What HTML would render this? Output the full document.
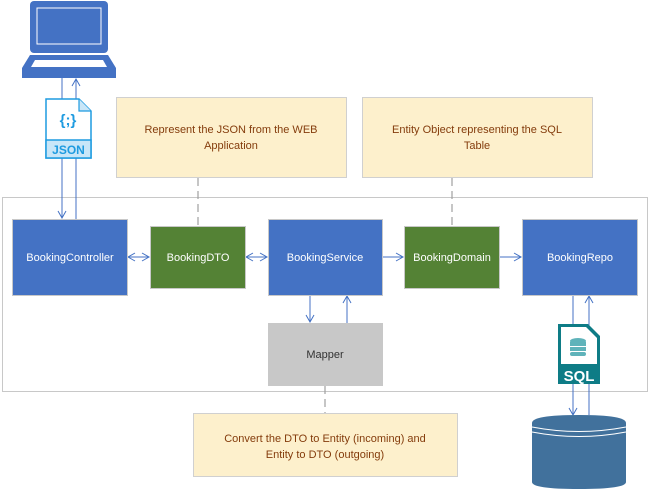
<!DOCTYPE html>
<html><head><style>body{margin:0;background:#fff}svg{display:block}text{font-family:"Liberation Sans",sans-serif}</style></head>
<body>
<svg width="650" height="491" viewBox="0 0 650 491" xmlns="http://www.w3.org/2000/svg">
<defs>
<marker id="a" markerWidth="10" markerHeight="10" refX="8" refY="5" orient="auto" markerUnits="userSpaceOnUse"><path d="M1,1 L8,5 L1,9" fill="none" stroke="#4472c4" stroke-width="1"/></marker>
</defs>
<rect x="2.5" y="197.5" width="645" height="194" fill="#fff" stroke="#c8c8c8"/>
<rect x="116.5" y="97.5" width="230" height="80" fill="#fdf0cc" stroke="#d0d0d0"/>
<text x="231" y="133" font-size="11" fill="#843c0c" text-anchor="middle">Represent the JSON from the WEB</text>
<text x="231" y="149" font-size="11" fill="#843c0c" text-anchor="middle">Application</text>
<rect x="362.5" y="97.5" width="230" height="80" fill="#fdf0cc" stroke="#d0d0d0"/>
<text x="477" y="133" font-size="11" fill="#843c0c" text-anchor="middle">Entity Object representing the SQL</text>
<text x="477" y="149" font-size="11" fill="#843c0c" text-anchor="middle">Table</text>
<rect x="193.5" y="413.5" width="264" height="63" fill="#fdf0cc" stroke="#d0d0d0"/>
<text x="325" y="442" font-size="11" fill="#843c0c" text-anchor="middle">Convert the DTO to Entity (incoming) and</text>
<text x="325" y="458" font-size="11" fill="#843c0c" text-anchor="middle">Entity to DTO (outgoing)</text>
<g stroke="#a0a0a0" stroke-dasharray="8,5" stroke-width="1.2">
<line x1="198" y1="178" x2="198" y2="226"/>
<line x1="452" y1="178" x2="452" y2="226"/>
<line x1="325" y1="386" x2="325" y2="413"/>
</g>
<rect x="30" y="1" width="78" height="52" rx="4" fill="#4472c4"/>
<rect x="37" y="8" width="64" height="36" fill="none" stroke="#fff" stroke-width="1"/>
<path d="M30,55 L108,55 L116,68 L116,78 L22,78 L22,68 Z" fill="#4472c4"/>
<path d="M35,60 L103,60 L107,67 L31,67 Z" fill="#fff"/>
<g stroke="#4472c4" stroke-width="1" fill="none">
<line x1="62" y1="78" x2="62" y2="218" marker-end="url(#a)"/>
<line x1="76" y1="219" x2="76" y2="79" marker-end="url(#a)"/>
<line x1="573" y1="295" x2="573" y2="415" marker-end="url(#a)"/>
<line x1="589" y1="415" x2="589" y2="296" marker-end="url(#a)"/>
<line x1="310" y1="295" x2="310" y2="322" marker-end="url(#a)"/>
<line x1="347" y1="323" x2="347" y2="296" marker-end="url(#a)"/>
<line x1="128" y1="257" x2="149" y2="257" marker-end="url(#a)"/>
<line x1="149" y1="257" x2="128" y2="257" marker-end="url(#a)"/>
<line x1="246" y1="257" x2="267" y2="257" marker-end="url(#a)"/>
<line x1="267" y1="257" x2="246" y2="257" marker-end="url(#a)"/>
<line x1="383" y1="257" x2="403" y2="257" marker-end="url(#a)"/>
<line x1="500" y1="257" x2="521" y2="257" marker-end="url(#a)"/>
</g>
<path d="M46,99 L79,99 L91,111 L91,158 L46,158 Z" fill="#fff" stroke="#1e9be0" stroke-width="1.5"/>
<path d="M79,99 L79,111 L91,111" fill="#c8e6f8" stroke="#1e9be0" stroke-width="1.2"/>
<rect x="46" y="140" width="45" height="18" fill="#c8e6f8" stroke="#1e9be0" stroke-width="1.5"/>
<text x="68" y="125" font-size="15" fill="#1e9be0" text-anchor="middle" font-weight="bold">{;}</text>
<text x="68.5" y="154" font-size="12" fill="#1e9be0" text-anchor="middle" font-weight="bold">JSON</text>
<rect x="12.5" y="219.5" width="115" height="76" fill="#4472c4" stroke="#c8c8c8"/>
<text x="70" y="261" font-size="11" fill="#fff" text-anchor="middle">BookingController</text>
<rect x="150.5" y="226.5" width="95" height="62" fill="#548235" stroke="#c8c8c8"/>
<text x="198" y="261" font-size="11" fill="#fff" text-anchor="middle">BookingDTO</text>
<rect x="268.5" y="219.5" width="114" height="76" fill="#4472c4" stroke="#c8c8c8"/>
<text x="325" y="261" font-size="11" fill="#fff" text-anchor="middle">BookingService</text>
<rect x="404.5" y="226.5" width="95" height="62" fill="#548235" stroke="#c8c8c8"/>
<text x="452" y="261" font-size="11" fill="#fff" text-anchor="middle">BookingDomain</text>
<rect x="522.5" y="219.5" width="115" height="76" fill="#4472c4" stroke="#c8c8c8"/>
<text x="580" y="261" font-size="11" fill="#fff" text-anchor="middle">BookingRepo</text>
<rect x="268.5" y="323.5" width="114" height="62" fill="#c8c8c8" stroke="#c8c8c8"/>
<text x="325" y="358" font-size="11" fill="#333" text-anchor="middle">Mapper</text>
<path d="M558,324 L588,324 L600,336 L600,384 L558,384 Z" fill="#0e7c86"/>
<path d="M561,327 L586,327 L597,338 L597,364 L561,364 Z" fill="#fff"/>
<ellipse cx="578" cy="341" rx="8" ry="3" fill="#5fb3ba"/>
<rect x="570" y="342" width="16" height="4" fill="#5fb3ba"/>
<rect x="570" y="347" width="16" height="4" fill="#5fb3ba"/>
<rect x="570" y="352" width="16" height="4" rx="2" fill="#5fb3ba"/>
<text x="579" y="381" font-size="15" fill="#fff" text-anchor="middle" font-weight="bold">SQL</text>
<path d="M532,423 Q532,415 579,415 Q626,415 626,423 L626,482 Q626,489 579,489 Q532,489 532,482 Z" fill="#41719c"/>
<path d="M532,427 Q579,436 626,427" fill="none" stroke="#fff" stroke-width="1"/>
<path d="M532,432 Q579,441 626,432" fill="none" stroke="#fff" stroke-width="1"/>
</svg>
</body></html>
